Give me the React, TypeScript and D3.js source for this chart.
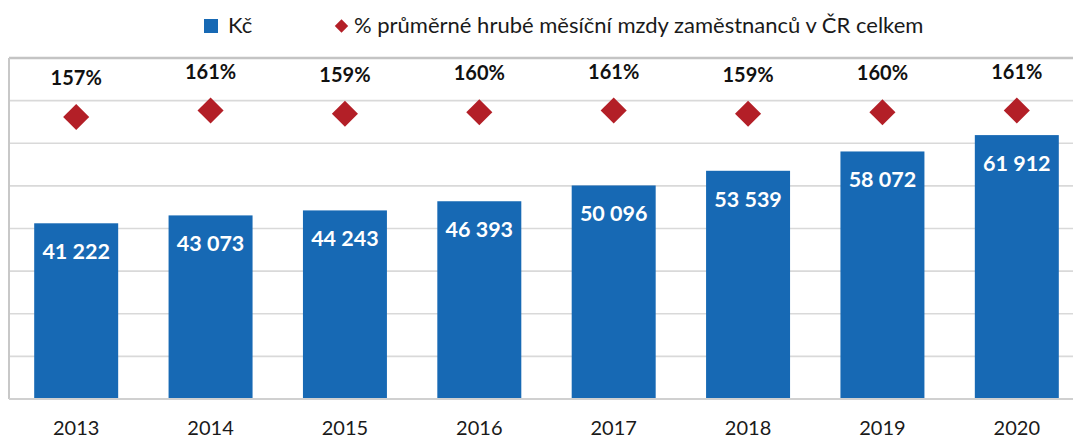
import React from "react";
import * as d3 from "d3";

const years = ["2013", "2014", "2015", "2016", "2017", "2018", "2019", "2020"];
const wages = [41222, 43073, 44243, 46393, 50096, 53539, 58072, 61912];
const pcts = [157, 161, 159, 160, 161, 159, 160, 161];
const legendBar = "Kč";
const legendPct = "% průměrné hrubé měsíční mzdy zaměstnanců v ČR celkem";

const W = 1073;
const H = 439;
const plotLeft = 9;
const plotRight = 1084;
const plotTop = 58;
const plotBottom = 399;

const BAR = "#1769b4";
const RED = "#b31f27";
const FONT = "Lato, 'Noto Sans', sans-serif";

const locale = d3.formatLocale({ decimal: ",", thousands: " ", grouping: [3], currency: ["", ""] });
const fmt = locale.format(",d");

export default function App() {
  const x = d3.scaleBand<string>().domain(years).range([plotLeft, plotRight]).paddingInner(0.375).paddingOuter(0.1875);
  const y = d3.scaleLinear().domain([0, 80000]).range([plotBottom, plotTop]);
  const yp = d3.scaleLinear().domain([-20, 194]).range([plotBottom, plotTop]);
  const ticks = d3.range(0, 80001, 10000);
  const diamond = d3.symbol().type(d3.symbolSquare).size(340)();
  const legendDiamond = d3.symbol().type(d3.symbolSquare).size(90)();

  return (
    <svg width={W} height={H} style={{ position: "absolute", left: 0, top: 0, background: "#fff" }} fontFamily={FONT}>
      <rect x={0} y={0} width={W} height={H} fill="#fff" />
      {/* legend */}
      <rect x={204} y={19} width={14} height={14} fill={BAR} />
      <text x={228} y={33} fontSize={22} fill="#1a1a1a">{legendBar}</text>
      <path d={legendDiamond!} transform={`translate(341.5,26) rotate(45)`} fill={RED} />
      <text x={354} y={33} fontSize={22} fill="#1a1a1a">{legendPct}</text>

      {/* gridlines */}
      {ticks.map((t) => (
        <line key={t} x1={plotLeft} x2={plotRight} y1={y(t)} y2={y(t)} stroke={t === 80000 ? "#c4c4c4" : "#d9d9d9"} strokeWidth={t === 80000 ? 2.5 : 1.6} />
      ))}
      <line x1={plotLeft} x2={plotLeft} y1={plotTop} y2={plotBottom} stroke="#c8c8c8" strokeWidth={2} />

      {/* bars */}
      {years.map((yr, i) => (
        <rect key={yr} x={x(yr)!} y={y(wages[i])} width={x.bandwidth()} height={plotBottom - y(wages[i])} fill={BAR} />
      ))}
      <line x1={plotLeft} x2={plotRight} y1={plotBottom} y2={plotBottom} stroke="#d0d0d0" strokeWidth={2} />

      {/* bar labels */}
      {years.map((yr, i) => (
        <text key={yr} x={x(yr)! + x.bandwidth() / 2} y={y(wages[i]) + 28} dy="0.36em" textAnchor="middle" fontSize={21.5} fontWeight={700} fill="#fff">
          {fmt(wages[i])}
        </text>
      ))}

      {/* diamonds */}
      {years.map((yr, i) => (
        <path key={yr} d={diamond!} transform={`translate(${x(yr)! + x.bandwidth() / 2},${yp(pcts[i])}) rotate(45)`} fill={RED} />
      ))}
      {years.map((yr, i) => (
        <text key={yr} x={x(yr)! + x.bandwidth() / 2} y={yp(pcts[i]) - 39} dy="0.36em" textAnchor="middle" fontSize={20} fontWeight={700} fill="#111">
          {pcts[i]}%
        </text>
      ))}

      {/* x axis labels */}
      {years.map((yr) => (
        <text key={yr} x={x(yr)! + x.bandwidth() / 2} y={435} textAnchor="middle" fontSize={20} fill="#1a1a1a">
          {yr}
        </text>
      ))}
    </svg>
  );
}
